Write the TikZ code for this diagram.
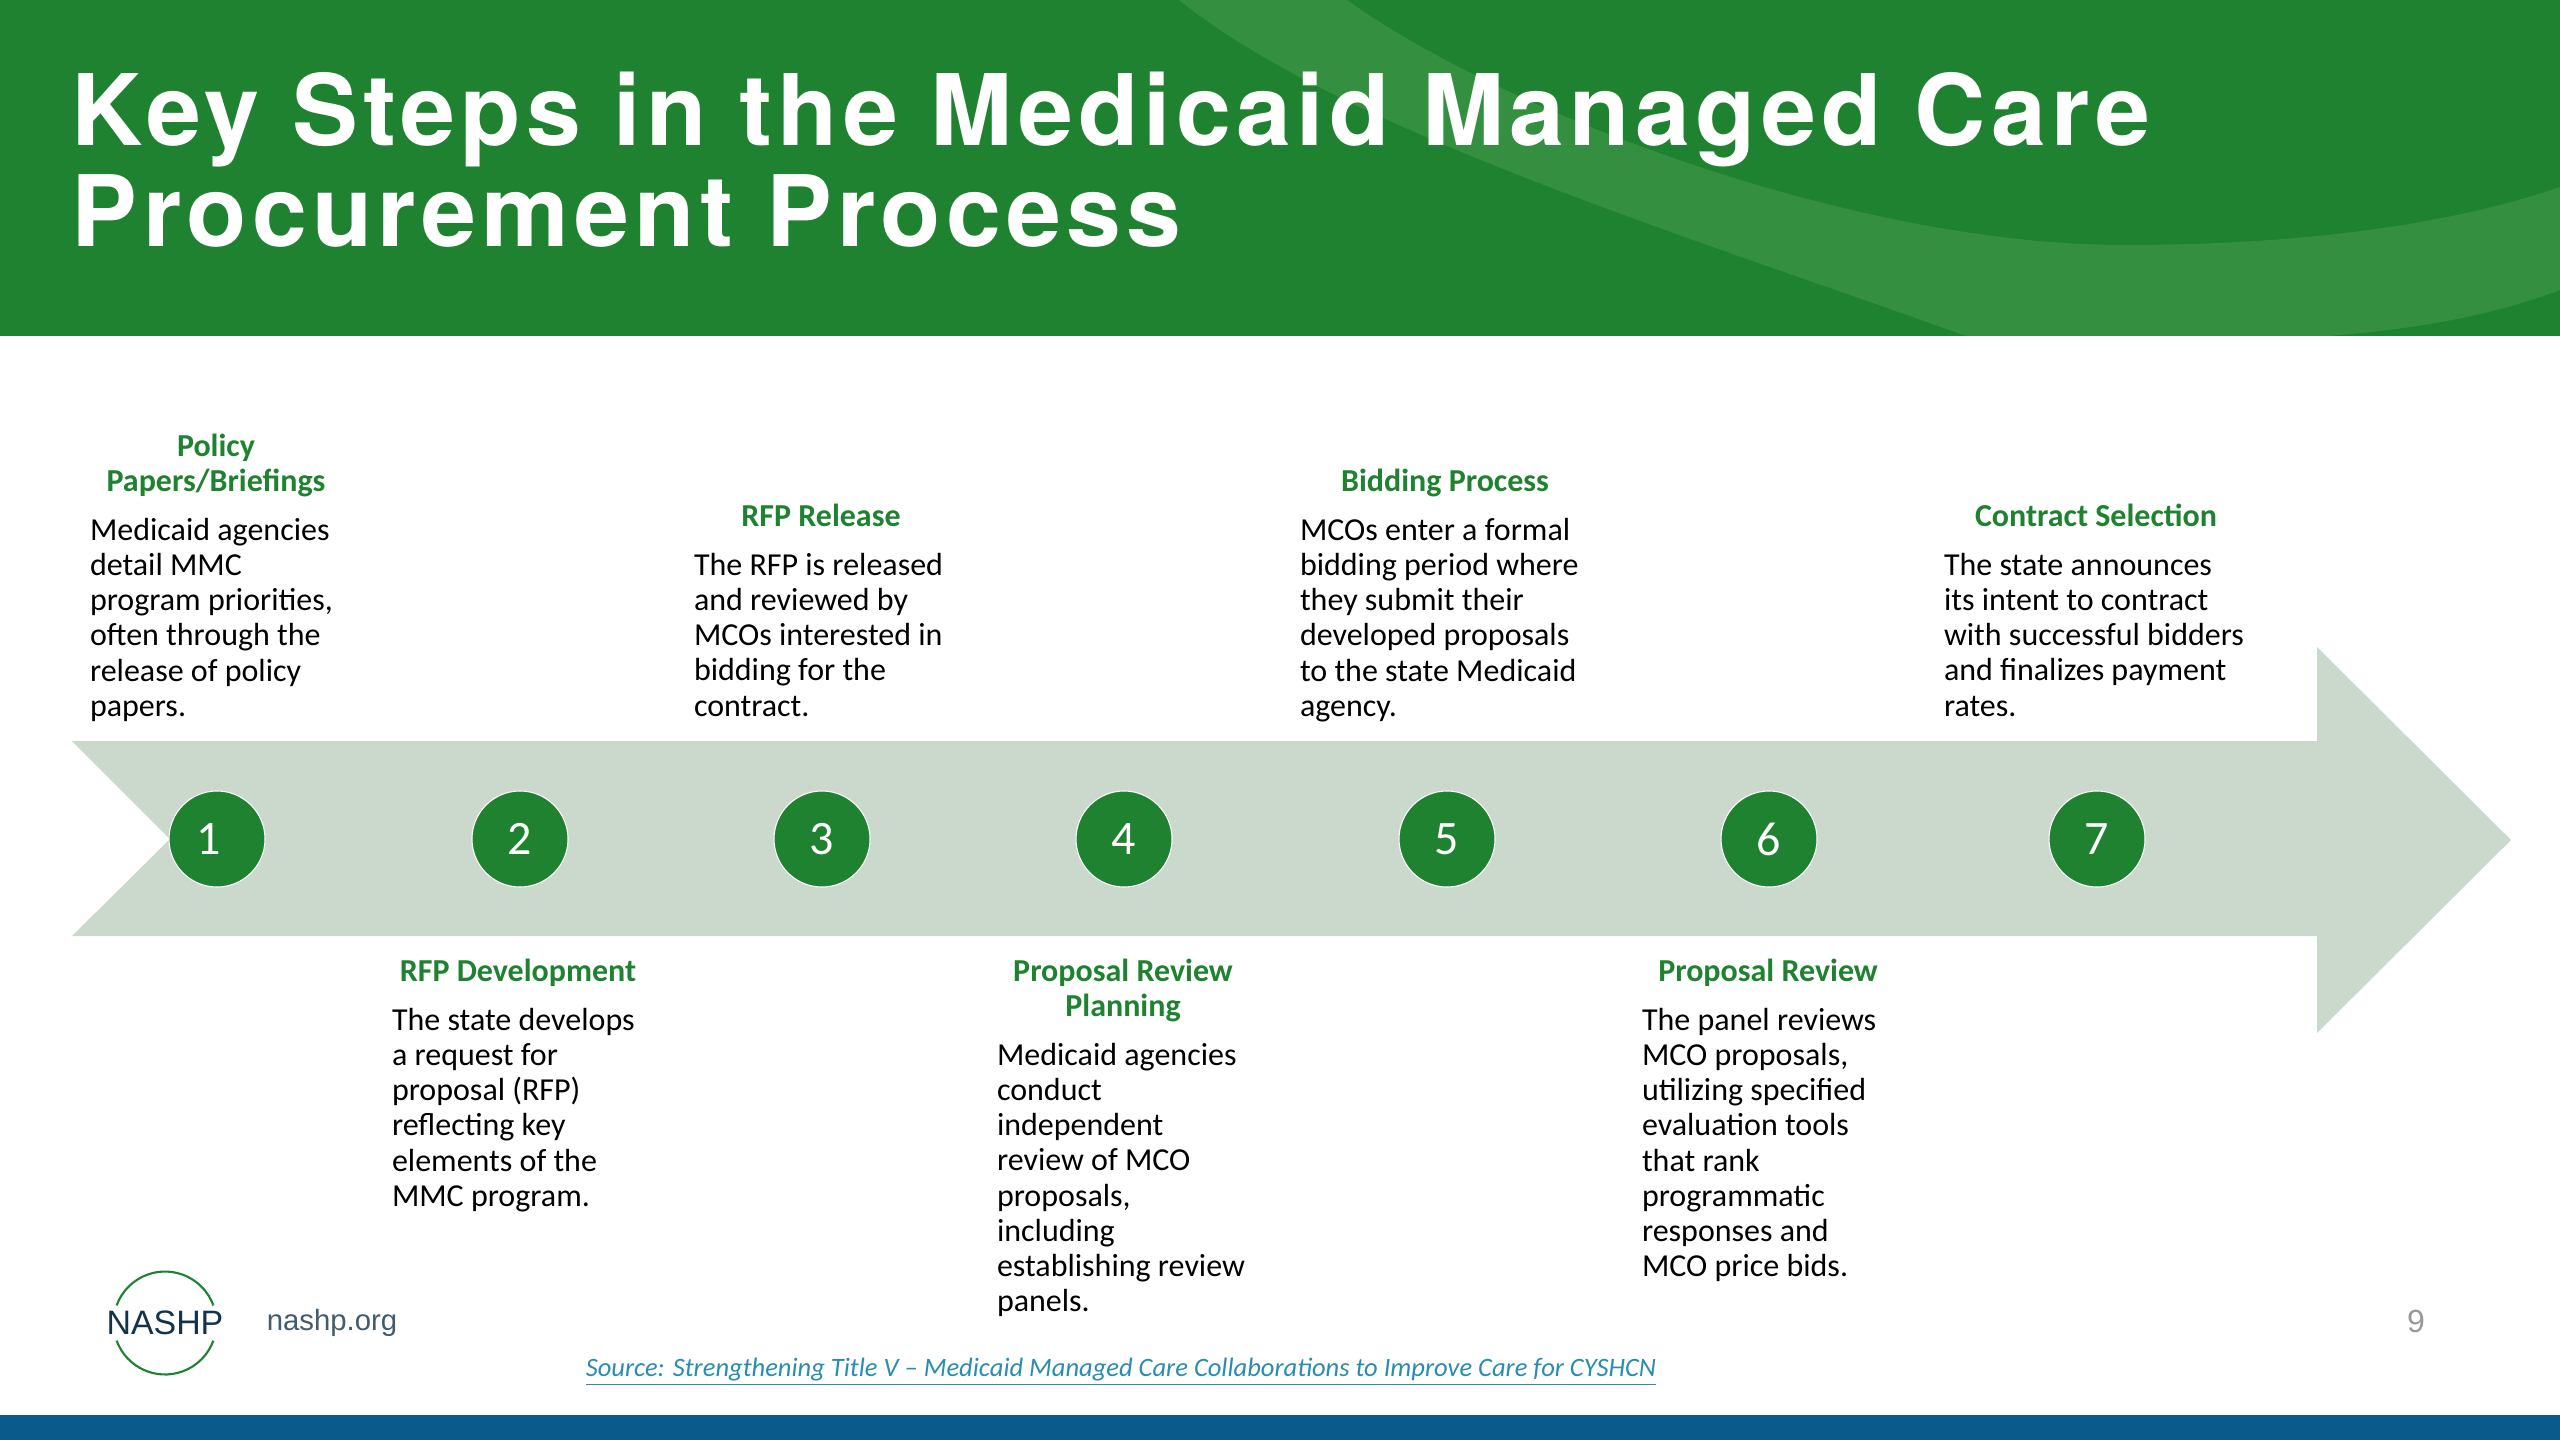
\documentclass[tikz,border=0pt]{standalone}
\usepackage{fontspec}
\setmainfont{Carlito}
\newfontfamily\arialfont{Liberation Sans}
\newfontfamily\titlefont[LetterSpace=5.3]{TeX Gyre Heros}
\definecolor{nashpgreen}{HTML}{1F8230}
\definecolor{swooshgreen}{HTML}{349040}
\definecolor{arrowgreen}{HTML}{CBD9CC}
\definecolor{footblue}{HTML}{0B5A8C}
\definecolor{linkblue}{HTML}{2A8CB0}
\definecolor{logoink}{HTML}{12334A}

\begin{document}
\begin{tikzpicture}[
      x=0.375pt,
      y=-0.375pt,
      every node/.style={
        inner sep=0pt,
        outer sep=0pt
      },
      stepdot/.style={
        circle,
        draw=white,
        line width=0.4pt,
        fill=nashpgreen,
        text=white,
        minimum size=36pt,
        font=\fontsize{18}{20}\selectfont
      },
      steptitle/.style={
        align=center,
        anchor=north,
        text=nashpgreen,
        font=\bfseries\fontsize{12}{13.2}\selectfont
      },
      stepbody/.style={
        align=left,
        anchor=north west,
        text=black,
        font=\fontsize{12}{13.2}\selectfont
      }
    ]
      \useasboundingbox (0,0) rectangle (2560,1440);

      % header and footer
      \fill[nashpgreen] (0,0) rectangle (2560,336);
      \fill[swooshgreen] (1179,0) -- (1347,0)
        .. controls (1500,110) and (1850,245) .. (2124,245)
        .. controls (2300,245) and (2450,225) .. (2560,187)
        -- (2560,290)
        .. controls (2480,320) and (2400,330) .. (2329,336)
        -- (1966,336)
        .. controls (1700,240) and (1340,130) .. (1179,0) -- cycle;
      \fill[footblue] (0,1415) rectangle (2560,1440);

      \node[anchor=north west, align=left, text=white,
            font=\titlefont\bfseries\fontsize{37}{38}\selectfont] (title) at (72,72)
        {Key Steps in the Medicaid Managed Care\\Procurement Process};

      % big arrow
      \fill[arrowgreen] (72,741) -- (2317,741) -- (2317,647) -- (2511,840)
        -- (2317,1033) -- (2317,936) -- (72,936) -- (170,839) -- cycle;

      \node[stepdot] (dot1) at (217,839) {\hspace{-6.5pt}1};
      \node[stepdot] (dot2) at (520,839) {2};
      \node[stepdot] (dot3) at (822,839) {3};
      \node[stepdot] (dot4) at (1124,839) {4};
      \node[stepdot] (dot5) at (1447,839) {5};
      \node[stepdot] (dot6) at (1769,839) {6};
      \node[stepdot] (dot7) at (2097,839) {7};

      % upper steps
      \node[steptitle] (head1) at (216,434) {Policy\\Papers/Briefings};
      \node[stepbody] (body1) at (90,518)
        {Medicaid agencies\\detail MMC\\program priorities,\\often through the\\release of policy\\papers.};

      \node[steptitle] (head3) at (821,504) {RFP Release};
      \node[stepbody] (body3) at (694,553)
        {The RFP is released\\and reviewed by\\MCOs interested in\\bidding for the\\contract.};

      \node[steptitle] (head5) at (1445,469) {Bidding Process};
      \node[stepbody] (body5) at (1300,518)
        {MCOs enter a formal\\bidding period where\\they submit their\\developed proposals\\to the state Medicaid\\agency.};

      \node[steptitle] (head7) at (2096,504) {Contract Selection};
      \node[stepbody] (body7) at (1944,553)
        {The state announces\\its intent to contract\\with successful bidders\\and finalizes payment\\rates.};

      % lower steps
      \node[steptitle] (head2) at (518,959) {RFP Development};
      \node[stepbody] (body2) at (392,1008)
        {The state develops\\a request for\\proposal (RFP)\\reflecting key\\elements of the\\MMC program.};

      \node[steptitle] (head4) at (1123,959) {Proposal Review\\Planning};
      \node[stepbody] (body4) at (997,1043)
        {Medicaid agencies\\conduct\\independent\\review of MCO\\proposals,\\including\\establishing review\\panels.};

      \node[steptitle] (head6) at (1768,959) {Proposal Review};
      \node[stepbody] (body6) at (1642,1008)
        {The panel reviews\\MCO proposals,\\utilizing specified\\evaluation tools\\that rank\\programmatic\\responses and\\MCO price bids.};

      % footer items
      \node[text=logoink, font=\arialfont\fontsize{12.7}{15}\selectfont] (logo) at (165,1323) {NASHP};
      \draw[nashpgreen, line width=0.8pt] (logo.center) ++(20:19.3pt) arc[start angle=20, end angle=160, radius=19.3pt];
      \draw[nashpgreen, line width=0.8pt] (logo.center) ++(200:19.3pt) arc[start angle=200, end angle=340, radius=19.3pt];
      \node[text=logoink!80, font=\arialfont\fontsize{11}{13}\selectfont] (site) at (332,1323) {nashp.org};
      \node[text=black!40, font=\arialfont\fontsize{12}{14}\selectfont] (pagenum) at (2416,1321) {9};
      \node[text=linkblue, font=\itshape\fontsize{9.95}{12}\selectfont] (source) at (1121,1372)
        {\underline{Source: Strengthening Title V -- Medicaid Managed Care Collaborations to Improve Care for CYSHCN}};
    \end{tikzpicture}
\end{document}
